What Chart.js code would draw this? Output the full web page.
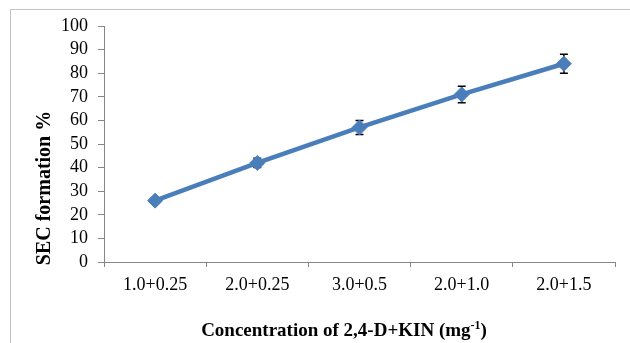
<!DOCTYPE html>
<html>
<head>
<meta charset="utf-8">
<script src="https://cdn.jsdelivr.net/npm/chart.js@4/dist/chart.umd.min.js"></script>
<style>
  html, body { margin: 0; padding: 0; background: #fff; }
  #wrap { position: relative; width: 630px; height: 343px; overflow: hidden; }
  #frame {
    position: absolute; left: 10px; top: 9px; width: 700px; height: 400px;
    border: 1px solid #c3c3c3; box-sizing: border-box;
  }
  #chart { position: absolute; left: 0; top: 0; }
</style>
</head>
<body>
<div id="wrap">
  <div id="frame"></div>
  <canvas id="chart" width="630" height="343"></canvas>
</div>
<script>
// Data
const categories = ["1.0+0.25", "2.0+0.25", "3.0+0.5", "2.0+1.0", "2.0+1.5"];
const secFormation = [26, 42, 57, 71, 84];
const secError = [0.5, 2, 3, 3.5, 4];
const yTicks = [0, 10, 20, 30, 40, 50, 60, 70, 80, 90, 100];

const serif = "'Liberation Serif', 'Times New Roman', serif";
const axisGray = "#868686";

// Vertical error bars with caps, drawn under the markers
const errorBars = {
  id: "errorBars",
  beforeDatasetsDraw(chart) {
    const { ctx, scales } = chart;
    const meta = chart.getDatasetMeta(0);
    ctx.save();
    ctx.strokeStyle = "#000";
    ctx.lineWidth = 1.5;
    meta.data.forEach((pt, i) => {
      const x = pt.x;
      const yTop = scales.y.getPixelForValue(secFormation[i] + secError[i]);
      const yBot = scales.y.getPixelForValue(secFormation[i] - secError[i]);
      ctx.beginPath();
      ctx.moveTo(x, yTop); ctx.lineTo(x, yBot);
      ctx.moveTo(x - 4, yTop); ctx.lineTo(x + 4, yTop);
      ctx.moveTo(x - 4, yBot); ctx.lineTo(x + 4, yBot);
      ctx.stroke();
    });
    ctx.restore();
  },
};

// Axis titles (x title needs a superscript)
const axisTitles = {
  id: "axisTitles",
  afterDraw(chart) {
    const { ctx } = chart;
    ctx.save();
    ctx.fillStyle = "#000";

    // y title
    ctx.translate(44, 188);
    ctx.rotate(-Math.PI / 2);
    ctx.font = "bold 20px " + serif;
    ctx.textAlign = "center";
    ctx.textBaseline = "middle";
    ctx.fillText("SEC formation %", 0, 1);
    ctx.setTransform(1, 0, 0, 1, 0, 0);

    // x title
    const main = "Concentration of 2,4-D+KIN (mg";
    const sup = "-1";
    const end = ")";
    ctx.textAlign = "left";
    ctx.textBaseline = "alphabetic";
    const bold = "bold 19px " + serif;
    const small = "bold 12px " + serif;
    ctx.font = bold;
    const wMain = ctx.measureText(main).width;
    const wEnd = ctx.measureText(end).width;
    ctx.font = small;
    const wSup = ctx.measureText(sup).width;
    const total = wMain + wSup + wEnd;
    let x = 344 - total / 2;
    const base = 336;
    ctx.font = bold;
    ctx.fillText(main, x, base);
    x += wMain;
    ctx.font = small;
    ctx.fillText(sup, x, base - 7);
    x += wSup;
    ctx.font = bold;
    ctx.fillText(end, x, base);
    ctx.restore();
  },
};

new Chart(document.getElementById("chart"), {
  type: "line",
  data: {
    labels: categories,
    datasets: [{
      data: secFormation,
      borderColor: "#4a7ebb",
      borderWidth: 4.5,
      backgroundColor: "#4a7ebb",
      pointStyle: "rectRot",
      pointRadius: 7.5,
      pointBorderWidth: 1,
      pointBorderColor: "#4a7ebb",
      pointBackgroundColor: "#4a7ebb",
      tension: 0,
    }],
  },
  plugins: [errorBars, axisTitles],
  options: {
    responsive: false,
    devicePixelRatio: 1,
    animation: false,
    layout: { padding: { left: 0, top: 26, right: 15, bottom: 0 } },
    plugins: {
      legend: { display: false },
      tooltip: { enabled: false },
    },
    scales: {
      x: {
        offset: true,
        afterFit: (scale) => { scale.height = 81; },
        grid: {
          offset: true,
          drawOnChartArea: false,
          drawTicks: true,
          tickLength: 5,
          color: axisGray,
        },
        border: { color: axisGray, width: 1 },
        ticks: {
          color: "#000",
          padding: 7,
          maxRotation: 0,
          autoSkip: false,
          font: { family: serif, size: 18 },
        },
      },
      y: {
        min: 0,
        max: 100,
        afterFit: (scale) => { scale.width = 104; },
        afterBuildTicks: (scale) => { scale.ticks = yTicks.map((v) => ({ value: v })); },
        grid: {
          drawOnChartArea: false,
          drawTicks: true,
          tickLength: 6,
          color: axisGray,
        },
        border: { color: axisGray, width: 1 },
        ticks: {
          color: "#000",
          padding: 10,
          autoSkip: false,
          font: { family: serif, size: 18 },
        },
      },
    },
  },
});
</script>
</body>
</html>
